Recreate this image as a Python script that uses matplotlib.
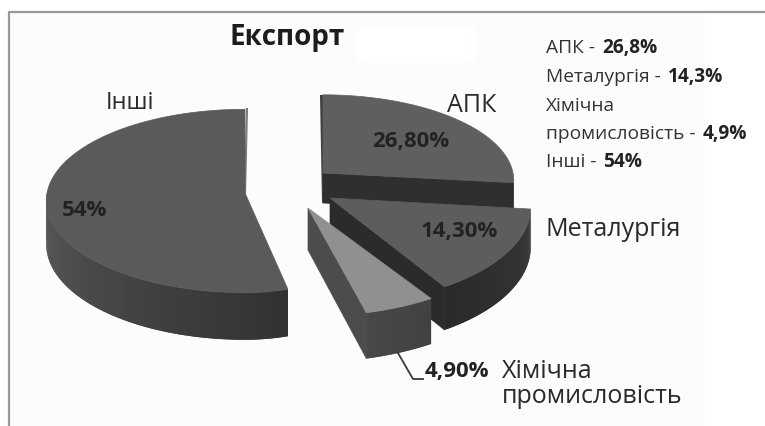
import matplotlib
matplotlib.use('Agg')
import matplotlib.pyplot as plt
from matplotlib.colors import to_rgb
from matplotlib.patches import Polygon
import numpy as np

# dani z rysunka
categories = ['АПК', 'Металургія', 'Хімічна\nпромисловість', 'Інші']
shares = [26.8, 14.3, 4.9, 54.0]
pct_labels = ['26,80%', '14,30%', '4,90%', '54%']
note_names = ['АПК - ', 'Металургія - ', 'промисловість - ', 'Інші - ']
note_values = ['26,8%', '14,3%', '4,9%', '54%']

plt.rcParams['font.family'] = ['Open Sans', 'DejaVu Sans']

# cx, cy, rx zliva, rx sprava, ry, height - kazhen sektor vidsunutyi okremo
geom = [(323, 173, 190, 190, 85, 30),
        (330, 198, 200, 200, 97, 40),
        (308, 208, 215, 215, 99, 42),
        (245, 193, 198, 158, 91, 43)]
top_cols = ['#5f5f60', '#5d5d5e', '#8f9092', '#5a5a5c']
P = 0.087


def project(g, th, down=0.0):
    cx, cy, rxl, rxr, ry, h = g
    x, y = np.cos(th), np.sin(th)
    s = 1 / (1 + P * y)
    rx = np.where(x > 0, rxr, rxl)
    return cx + rx * x * s, cy - ry * y * s + h * s * down


def arc(g, a0, a1, down=0.0, n=80):
    th = np.linspace(a0, a1, n)
    return np.column_stack(project(g, th, down))


def apex(g, down=0.0):
    return np.array([g[0], g[1] + g[5] * down])


fig = plt.figure(figsize=(7.65, 4.26), dpi=100, facecolor='white')
ax = fig.add_axes([0, 0, 1, 1])
ax.set_xlim(0, 765)
ax.set_ylim(426, 0)
ax.axis('off')

# fon i ramka
ax.fill_between([9, 705], 12, 426, color='#fbfcfc', lw=0)
ax.plot([9, 9, 765], [426, 12, 12], color='#9a9a9a', lw=1.6)
ax.fill_between([358, 476], 28, 62, color='white', lw=0)

# kuty sektoriv: pochatok zverhu, za hodynnykovoiu
ends = np.cumsum(shares) / sum(shares) * 2 * np.pi
starts = np.r_[0, ends[:-1]]
ang0 = np.pi / 2 - starts
ang1 = np.pi / 2 - ends


def side(g, a0, a1, c0, c1, zo):
    # bichna poverhnia smuzhkamy z hradiientom, smuzhky perekryvaiutsia
    n = 70
    th = np.linspace(a0, a1, n + 1)
    c0, c1 = np.array(to_rgb(c0)), np.array(to_rgb(c1))
    for i in range(n):
        col = c0 + (c1 - c0) * i / (n - 1)
        j = min(i + 2, n)
        pts = np.vstack([arc(g, th[i], th[j], 0, 3), arc(g, th[j], th[i], 1, 3)])
        ax.add_patch(Polygon(pts, fc=col, ec='none', zorder=zo))


def cut(g, a, col, zo):
    p = np.array(project(g, a))
    q = np.array(project(g, a, 1))
    ax.add_patch(Polygon([apex(g), p, q, apex(g, 1)], fc=col, ec=col, lw=0.5, zorder=zo))


order = [3, 0, 1, 2]
for z, i in enumerate(order):
    g = geom[i]
    zo = 2 + z * 3
    if i == 0:
        cut(g, ang1[i], '#2f2f30', zo)
        # uzkyi temnyi kraj zliva
        ax.add_patch(Polygon([(g[0] - 3, g[1] - 78), (g[0], g[1] - 78), (g[0], g[1] + g[5]), (g[0] - 1, g[1] + g[5])],
                             fc='#3f3f40', ec='none', zorder=zo))
    elif i == 1:
        cut(g, ang1[i], '#2b2b2c', zo)
        side(g, ang0[i], ang1[i], '#38383a', '#2a2a2b', zo)
    elif i == 2:
        cut(g, ang1[i], '#4b4c4e', zo)
        side(g, ang0[i], ang1[i], '#404143', '#47484a', zo)
    else:
        # Inshi: vydymyi luk vid livoho kraiu do kintsia sektora
        side(g, -np.pi, ang0[i], '#5a5a5c', '#313132', zo)
        ax.plot([247, 245], [109, 193], color='#7a7a7a', lw=1.5, zorder=zo)
    top = np.vstack([apex(g), arc(g, ang0[i], ang1[i])])
    ax.add_patch(Polygon(top, fc=top_cols[i], ec=top_cols[i], lw=0.5, zorder=zo + 1))

tc = '#2a2a2a'
pc = '#222222'
z = 30
ax.text(287, 37, 'Експорт', fontsize=20, fontweight='bold', color='#1c1c1c', ha='center', va='center', zorder=z)
ax.text(411, 141, pct_labels[0], fontsize=16, fontweight='bold', color=pc, ha='center', va='center', zorder=z)
ax.text(459, 232, pct_labels[1], fontsize=16, fontweight='bold', color=pc, ha='center', va='center', zorder=z)
ax.text(457, 371, pct_labels[2], fontsize=16, fontweight='bold', color=pc, ha='center', va='center', zorder=z)
ax.text(85, 211, pct_labels[3], fontsize=16, fontweight='bold', color=pc, ha='center', va='center', zorder=z)
ax.text(472, 105, categories[0], fontsize=18, color=tc, ha='center', va='center', zorder=z)
ax.text(613, 230, categories[1], fontsize=18, color=tc, ha='center', va='center', zorder=z)
ax.text(502, 384, categories[2], fontsize=18, color=tc, ha='left', va='center', linespacing=1.05, zorder=z)
ax.text(130, 103, categories[3], fontsize=17, color=tc, ha='center', va='center', zorder=z)

# vynoska
ax.plot([398, 413, 423], [353, 379, 379], color='#3a3a3a', lw=1.3, zorder=z)

# pidpys sprava
x_note = 546
rows = [(48, note_names[0], note_values[0]), (77, note_names[1], note_values[1]),
        (106, 'Хімічна', ''), (134, note_names[2], note_values[2]), (162, note_names[3], note_values[3])]
r = fig.canvas.get_renderer()
for y, a, b in rows:
    t = ax.text(x_note, y, a, fontsize=13.8, color='#333333', va='center', zorder=z)
    if b:
        w = t.get_window_extent(r).width
        ax.text(x_note + w + 2, y, b, fontsize=13.8, fontweight='bold', color='#222222', va='center', zorder=z)

fig.savefig('out.png', dpi=100, facecolor=fig.get_facecolor())
